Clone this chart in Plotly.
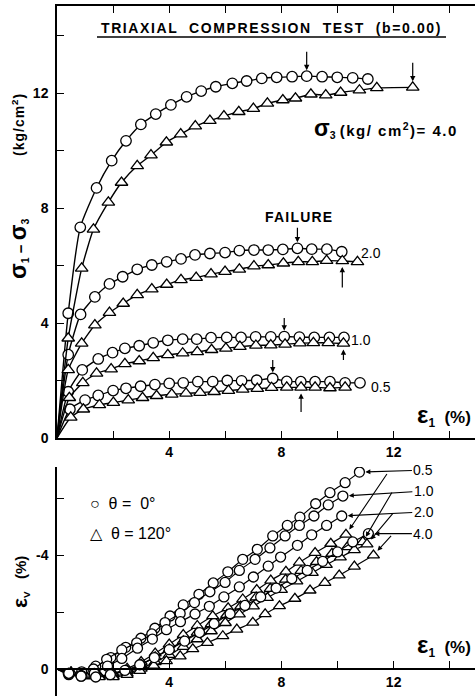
import plotly.graph_objects as go

# ---------------- data ----------------
# top panel: deviator stress (kg/cm2) vs axial strain (%)
c40_x = [0.40,0.83,1.41,1.95,2.46,2.99,3.52,4.06,4.62,5.14,5.66,6.25,6.76,7.30,7.83,8.38,8.90,9.45,9.99,10.54,11.08]
c40_y = [4.34,7.33,8.70,9.65,10.34,10.91,11.27,11.59,11.87,12.07,12.22,12.34,12.42,12.51,12.55,12.57,12.59,12.57,12.55,12.53,12.49]
t40_x = [0.40,0.88,1.30,1.83,2.30,2.86,3.35,3.90,4.41,4.93,5.45,5.95,6.48,7.00,7.50,8.05,8.50,9.05,9.58,10.11,10.78,11.40,12.68]
t40_y = [3.47,5.90,7.26,8.20,8.89,9.47,9.84,10.29,10.57,10.85,11.04,11.20,11.35,11.46,11.64,11.76,11.82,11.96,11.93,12.02,12.10,12.18,12.20]
c20_x = [0.40,0.84,1.35,1.87,2.34,2.86,3.38,3.91,4.42,4.92,5.45,5.99,6.50,7.02,7.53,8.05,8.57,9.08,9.62,10.15]
c20_y = [2.90,4.30,4.91,5.36,5.61,5.87,6.02,6.13,6.23,6.37,6.42,6.45,6.52,6.54,6.54,6.56,6.60,6.57,6.57,6.48]
t20_x = [0.40,0.88,1.35,1.87,2.36,2.86,3.38,3.91,4.42,4.96,5.49,5.99,6.50,7.02,7.53,8.07,8.60,9.10,9.61,10.17,10.71]
t20_y = [2.37,3.29,3.93,4.36,4.68,4.98,5.18,5.34,5.50,5.58,5.70,5.79,5.87,5.98,6.02,6.08,6.13,6.13,6.17,6.16,6.13]
c10_x = [0.40,0.90,1.47,1.98,2.42,2.93,3.43,3.95,4.48,4.98,5.49,6.05,6.56,7.08,7.62,8.10,8.64,9.17,9.71,10.23]
c10_y = [1.61,2.37,2.75,2.97,3.12,3.21,3.31,3.40,3.44,3.44,3.49,3.50,3.50,3.52,3.52,3.53,3.51,3.50,3.50,3.50]
t10_x = [0.44,0.92,1.41,1.93,2.42,2.93,3.43,3.95,4.48,5.00,5.51,6.02,6.52,7.09,7.62,8.13,8.66,9.14,9.67,10.21]
t10_y = [1.40,1.92,2.25,2.40,2.58,2.68,2.79,2.89,2.95,3.00,3.07,3.12,3.18,3.22,3.23,3.26,3.30,3.31,3.31,3.29]
c05_x = [0.46,1.00,1.47,2.00,2.46,2.98,3.49,4.00,4.50,5.02,5.55,6.07,6.58,7.12,7.69,8.19,8.69,9.20,9.73,10.27,10.80]
c05_y = [1.00,1.32,1.48,1.65,1.73,1.80,1.86,1.90,1.92,1.96,1.96,2.00,1.99,2.01,2.07,1.97,1.96,1.96,1.96,1.92,1.92]
t05_x = [0.49,0.94,1.51,2.01,2.54,3.05,3.55,4.09,4.60,5.10,5.60,6.11,6.62,7.14,7.65,8.19,8.70,9.20,9.73,10.27]
t05_y = [0.72,1.00,1.15,1.23,1.32,1.40,1.47,1.52,1.55,1.58,1.61,1.65,1.69,1.72,1.75,1.76,1.76,1.76,1.74,1.76]

# failure points (index into the series above)
fail_c40, fail_t40 = 16, 22
fail_c20, fail_t20 = 16, 19
fail_c10, fail_t10 = 15, 19
fail_c05, fail_t05 = 14, 16

# bottom panel: volumetric strain (%) vs axial strain (%)
vc05_x = [0.42,0.88,1.38,1.92,2.45,2.99,3.49,4.03,4.50,5.06,5.57,6.09,6.62,7.14,7.69,8.21,8.66,9.22,9.73,10.27,10.78]
vc05_y = [0.20,0.10,-0.10,-0.40,-0.76,-1.08,-1.43,-1.86,-2.25,-2.62,-3.02,-3.41,-3.85,-4.20,-4.67,-5.04,-5.33,-5.80,-6.19,-6.54,-6.91]
vc10_x = [0.42,0.86,1.30,1.77,2.31,2.84,3.38,3.85,4.39,4.90,5.45,5.99,6.50,7.06,7.59,8.13,8.64,9.16,9.67,10.19]
vc10_y = [0.15,0.22,0.00,-0.34,-0.67,-0.92,-1.23,-1.63,-1.95,-2.33,-2.71,-3.04,-3.46,-3.85,-4.25,-4.67,-5.04,-5.37,-5.76,-6.07]
vc20_x = [0.40,0.86,1.33,1.80,2.31,2.87,3.40,3.90,4.40,4.92,5.43,5.95,6.50,7.00,7.53,7.97,8.57,9.08,9.61,10.15]
vc20_y = [0.15,0.25,0.15,-0.10,-0.37,-0.73,-1.05,-1.38,-1.66,-1.93,-2.20,-2.53,-2.88,-3.23,-3.61,-3.93,-4.34,-4.71,-5.04,-5.37]
vc40_x = [0.42,0.86,1.38,1.90,2.42,2.95,3.47,4.00,4.55,5.08,5.60,6.17,6.70,7.26,7.81,8.37,8.92,9.47,10.00,10.54,11.10]
vc40_y = [0.15,0.25,0.28,0.20,0.05,-0.15,-0.40,-0.68,-0.98,-1.28,-1.59,-1.94,-2.23,-2.53,-2.84,-3.17,-3.46,-3.78,-4.11,-4.46,-4.75]
vt05_x = [0.50,1.00,1.50,2.00,2.50,3.00,3.50,4.00,4.50,5.00,5.55,6.10,6.62,7.12,7.62,8.16,8.64,9.20,9.76,10.30]
vt05_y = [0.15,0.25,0.25,0.15,-0.02,-0.25,-0.55,-0.87,-1.20,-1.52,-1.86,-2.14,-2.45,-2.78,-3.11,-3.42,-3.74,-4.08,-4.40,-4.72]
vt10_x = [0.50,1.00,1.50,2.00,2.50,3.00,3.50,4.00,4.50,5.00,5.50,6.05,6.55,7.10,7.60,8.15,8.70,9.25,9.80,10.35,10.90]
vt10_y = [0.12,0.22,0.25,0.18,0.05,-0.15,-0.42,-0.70,-0.98,-1.28,-1.58,-1.90,-2.20,-2.52,-2.82,-3.14,-3.45,-3.76,-4.05,-4.28,-4.46]
vt20_x = [0.50,1.00,1.50,2.00,2.50,3.00,3.50,4.00,4.50,5.00,5.50,6.00,6.50,7.00,7.50,8.00,8.55,9.10,9.60,10.10,10.60,11.05]
vt20_y = [0.12,0.22,0.27,0.25,0.15,-0.02,-0.25,-0.50,-0.78,-1.05,-1.33,-1.62,-1.92,-2.20,-2.50,-2.78,-3.08,-3.38,-3.66,-3.92,-4.18,-4.38]
vt40_x = [0.50,1.00,1.50,2.00,2.50,2.95,3.45,3.90,4.39,4.84,5.36,5.91,6.41,6.98,7.42,7.93,8.48,9.02,9.55,10.06,10.60,11.28]
vt40_y = [0.12,0.22,0.28,0.28,0.20,0.06,-0.12,-0.28,-0.45,-0.70,-0.92,-1.16,-1.39,-1.63,-1.93,-2.21,-2.47,-2.76,-3.03,-3.29,-3.60,-3.99]

tick_x = [4, 8, 12]
tick_x_text = ["4", "8", "12"]
tick_top_y = [0, 4, 8, 12]
tick_top_y_text = ["0", "4", "8", "12"]
tick_bot_y = [-4, 0]
tick_bot_y_text = ["-4", "0"]
minor_step = 2
sigma3_labels = ["0.5", "1.0", "2.0", "4.0"]

# ---------------- figure ----------------
FONT = "Liberation Sans, Arial, sans-serif"
fig = go.Figure()


def add_series(xs, ys, sym, xa, ya, size, lw):
    fig.add_trace(go.Scatter(x=[0] + xs, y=[0] + ys, mode="lines", xaxis=xa, yaxis=ya,
                             line=dict(color="black", width=lw, shape="spline", smoothing=0.5),
                             hoverinfo="skip", showlegend=False))
    fig.add_trace(go.Scatter(x=xs, y=ys, mode="markers", xaxis=xa, yaxis=ya,
                             marker=dict(symbol=sym, size=size, color="white",
                                         line=dict(color="black", width=1.3)),
                             showlegend=False))


for xs, ys in [(c40_x, c40_y), (c20_x, c20_y), (c10_x, c10_y), (c05_x, c05_y)]:
    add_series(xs, ys, "circle", "x", "y", 10.5, 1.4)
for xs, ys in [(t40_x, t40_y), (t20_x, t20_y), (t10_x, t10_y), (t05_x, t05_y)]:
    add_series(xs, ys, "triangle-up", "x", "y", 11, 1.4)
for xs, ys in [(vt05_x, vt05_y), (vt10_x, vt10_y), (vt20_x, vt20_y), (vt40_x, vt40_y)]:
    add_series(xs, ys, "triangle-up", "x2", "y2", 10.5, 1.2)
for xs, ys in [(vc05_x, vc05_y), (vc10_x, vc10_y), (vc20_x, vc20_y), (vc40_x, vc40_y)]:
    add_series(xs, ys, "circle", "x2", "y2", 10, 1.2)

tickfont = dict(family=FONT, size=14, color="black", weight="bold")
minor = dict(dtick=minor_step, tick0=0, ticks="inside", ticklen=7, tickwidth=1.3, tickcolor="black",
             showgrid=False)
common_x = dict(range=[0, 14.9], tickvals=tick_x, ticktext=tick_x_text, ticks="inside", ticklen=7,
                tickwidth=1.3, tickcolor="black", showgrid=False, zeroline=False, automargin=False,
                showline=True, linecolor="black", linewidth=1.5, tickfont=tickfont, minor=minor)
common_y = dict(ticks="inside", ticklen=7, tickwidth=1.3, tickcolor="black", showgrid=False,
                zeroline=False, automargin=False, showline=True, linecolor="black", linewidth=1.5,
                tickfont=tickfont, ticklabelstandoff=4, minor=minor)
right_y = dict(side="right", ticks="inside", ticklen=6, tickwidth=1.3, tickcolor="black",
               dtick=minor_step, tick0=0,
               showticklabels=False, showgrid=False, zeroline=False, showline=False, automargin=False)

fig.update_layout(
    width=475, height=696,
    margin=dict(l=57, r=0, t=6, b=0, autoexpand=False),
    paper_bgcolor="white", plot_bgcolor="white",
    font=dict(family=FONT, color="black"),
    showlegend=False,
    xaxis=dict(common_x, domain=[0, 1], anchor="y", mirror="ticks"),
    yaxis=dict(common_y, domain=[0.3739, 1.0], range=[0, 15.03], anchor="x",
               tickvals=tick_top_y, ticktext=tick_top_y_text),
    yaxis3=dict(right_y, overlaying="y", anchor="x", range=[0, 15.03]),
    xaxis2=dict(common_x, domain=[0, 1], anchor="free", position=0.0391),
    yaxis2=dict(common_y, domain=[0, 0.3319], range=[0.947, -7.09], anchor="x2",
                tickvals=tick_bot_y, ticktext=tick_bot_y_text),
    yaxis4=dict(right_y, overlaying="y2", anchor="x2", range=[0.947, -7.09]),
)


def px_x(p):
    return (p - 57) / 418.0


def px_y(p):
    return (696 - p) / 690.0


ann = []

# title with underline
ann.append(dict(xref="paper", yref="paper", x=px_x(271), y=px_y(28),
                text="<span style='letter-spacing:1.6px'>TRIAXIAL  COMPRESSION  TEST  (b=0.00)</span>",
                showarrow=False, font=dict(family=FONT, size=14, color="black", weight="bold"),
                xanchor="center", yanchor="middle"))
fig.add_shape(type="line", xref="paper", yref="paper", x0=px_x(97), x1=px_x(446), y0=px_y(37), y1=px_y(37),
              line=dict(color="black", width=1.5))

ann.append(dict(xref="paper", yref="paper", x=px_x(460), y=px_y(128),
                text="<span style='font-size:23px'>σ</span><sub>3</sub> <span style='letter-spacing:1.5px'>(kg/ cm<sup>2</sup>)= 4.0</span>",
                showarrow=False, font=dict(family=FONT, size=15, color="black", weight="bold"),
                xanchor="right", yanchor="middle"))
ann.append(dict(xref="paper", yref="paper", x=px_x(299), y=px_y(207),
                text="<span style='letter-spacing:1.2px'>FAILURE</span>",
                showarrow=False, font=dict(family=FONT, size=14, color="black", weight="bold")))
for lab, xp, yp in [(sigma3_labels[2], 383, 253), (sigma3_labels[1], 373, 340),
                    (sigma3_labels[0], 393, 387)]:
    ann.append(dict(xref="paper", yref="paper", x=px_x(xp), y=px_y(yp), text=lab, showarrow=False,
                    font=dict(family=FONT, size=14, color="black")))

# axis titles (rotated)
ann.append(dict(xref="paper", yref="paper", x=px_x(18), y=px_y(249), textangle=-90,
                text="<span style='font-size:23px'>σ</span><sub>1</sub> − <span style='font-size:23px'>σ</span><sub>3</sub>",
                showarrow=False, font=dict(family=FONT, size=15, color="black", weight="bold"),
                xanchor="center", yanchor="middle"))
ann.append(dict(xref="paper", yref="paper", x=px_x(18), y=px_y(125), textangle=-90,
                text="<span style='letter-spacing:1px'>(kg/cm<sup>2</sup>)</span>",
                showarrow=False, font=dict(family=FONT, size=14, color="black", weight="bold"),
                xanchor="center", yanchor="middle"))
ann.append(dict(xref="paper", yref="paper", x=px_x(20), y=px_y(600), textangle=-90,
                text="<span style='font-size:21px'>ε</span><sub>V</sub>",
                showarrow=False, font=dict(family=FONT, size=14, color="black", weight="bold"),
                xanchor="center", yanchor="middle"))
ann.append(dict(xref="paper", yref="paper", x=px_x(20), y=px_y(568), textangle=-90,
                text="(%)",
                showarrow=False, font=dict(family=FONT, size=15, color="black", weight="bold"),
                xanchor="center", yanchor="middle"))
for yp in [415, 645]:
    ann.append(dict(xref="paper", yref="paper", x=px_x(473), y=px_y(yp),
                    text="<span style='font-size:24px'>ε</span><sub>1</sub>  (%)",
                    showarrow=False, font=dict(family=FONT, size=17, color="black", weight="bold"),
                    xanchor="right", yanchor="middle"))

# legend
ann.append(dict(xref="paper", yref="paper", x=px_x(88), y=px_y(503), text="○  θ =  0°", showarrow=False,
                font=dict(family=FONT, size=16, color="black"), xanchor="left", yanchor="middle"))
ann.append(dict(xref="paper", yref="paper", x=px_x(88), y=px_y(533), text="△  θ = 120°", showarrow=False,
                font=dict(family=FONT, size=16, color="black"), xanchor="left", yanchor="middle"))

# failure arrows
arrow = dict(showarrow=True, arrowhead=2, arrowsize=0.9, arrowwidth=1.2, arrowcolor="black", text="",
             xref="x", yref="y", ax=0)
for xs, ys, i, ay in [(c40_x, c40_y, fail_c40, -26), (t40_x, t40_y, fail_t40, -26),
                      (c20_x, c20_y, fail_c20, -22), (c10_x, c10_y, fail_c10, -20),
                      (c05_x, c05_y, fail_c05, -20)]:
    ann.append(dict(arrow, x=xs[i], y=ys[i], ay=ay, standoff=6))
for xs, ys, i, ay in [(t20_x, t20_y, fail_t20, 28), (t10_x, t10_y, fail_t10, 18),
                      (t05_x, t05_y, fail_t05, 26)]:
    ann.append(dict(arrow, x=xs[i], y=ys[i], ay=ay, standoff=6))

# bottom labels with arrows to curve ends
lab_font = dict(family=FONT, size=14, color="black")
for lab, xs, ys, ax, ay in [(sigma3_labels[0], vc05_x, vc05_y, 64, -2),
                            (sigma3_labels[1], vc10_x, vc10_y, 81, -5),
                            (sigma3_labels[2], vc20_x, vc20_y, 82, -4),
                            (sigma3_labels[3], vc40_x, vc40_y, 55, 0)]:
    ann.append(dict(xref="x2", yref="y2", x=xs[-1], y=ys[-1], ax=ax, ay=ay, text=lab,
                    showarrow=True, arrowhead=2, arrowsize=0.9, arrowwidth=1.1,
                    arrowcolor="black", standoff=6, font=lab_font))
for xs, ys, ax, ay in [(vt05_x, vt05_y, 42, -62), (vt10_x, vt10_y, 30, -51),
                       (vt20_x, vt20_y, 27, -32), (vt40_x, vt40_y, 19, -21)]:
    ann.append(dict(xref="x2", yref="y2", x=xs[-1], y=ys[-1], ax=ax, ay=ay, text="",
                    showarrow=True, arrowhead=2, arrowsize=0.9, arrowwidth=1.1,
                    arrowcolor="black", standoff=6))

fig.update_layout(annotations=ann)
fig.write_html("out.html", config={"displayModeBar": False},
               post_script="document.body.style.margin='0';document.body.style.overflow='hidden';")
